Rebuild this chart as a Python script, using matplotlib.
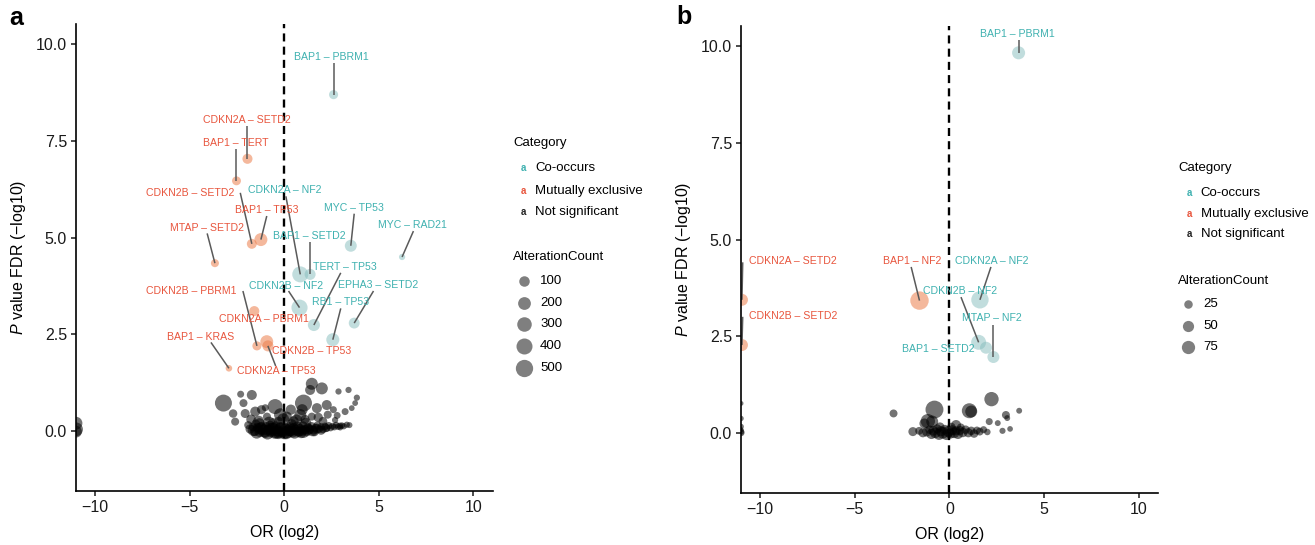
import matplotlib
matplotlib.use("Agg")
import matplotlib.pyplot as plt
import numpy as np

plt.rcParams['font.family'] = ['Liberation Sans', 'DejaVu Sans']
plt.rcParams['mathtext.fontset'] = 'custom'
plt.rcParams['mathtext.it'] = 'Liberation Sans:italic'
plt.rcParams['mathtext.rm'] = 'Liberation Sans'

# ---------------- panel a ----------------
a_sig_pairs = ['BAP1 – PBRM1', 'CDKN2A – SETD2', 'BAP1 – TERT', 'CDKN2B – SETD2', 'BAP1 – TP53',
               'MTAP – SETD2', 'CDKN2A – NF2', 'MYC – TP53', 'MYC – RAD21', 'BAP1 – SETD2',
               'TERT – TP53', 'CDKN2B – NF2', 'EPHA3 – SETD2', 'RB1 – TP53', 'CDKN2B – PBRM1',
               'CDKN2A – PBRM1', 'BAP1 – KRAS', 'CDKN2B – TP53', 'CDKN2A – TP53']
a_sig_or = [2.61, -1.94, -2.52, -1.71, -1.23, -3.66, 0.85, 3.52, 6.23, 1.37,
            1.57, 0.81, 3.70, 2.57, -1.44, -1.58, -2.92, -0.92, -0.86]
a_sig_fdr = [8.70, 7.04, 6.47, 4.84, 4.95, 4.34, 4.05, 4.79, 4.50, 4.05,
             2.74, 3.19, 2.79, 2.36, 2.20, 3.10, 1.62, 2.31, 2.20]
a_sig_count = [55, 85, 50, 80, 210, 30, 400, 160, 5, 120,
               165, 410, 115, 215, 55, 85, 8, 205, 120]
a_sig_cat = ['co', 'me', 'me', 'me', 'me', 'me', 'co', 'co', 'co', 'co',
             'co', 'co', 'co', 'co', 'me', 'me', 'me', 'me', 'me']

a_ns_or = [-11, -11, -11,
           -3.21, -2.30, -1.71, -2.15, -1.53, -2.59, -2.06, -1.20, -0.91, -0.48, -1.00,
           0.14, 0.85, 1.02, 1.37, 1.46, 1.99, 1.73, 2.25, 1.46, 2.87, 3.40, 3.75, 3.57,
           3.22, 3.84, 2.69, 3.31, 2.96, 2.30, 2.60, 1.10, 0.50, -0.30, -1.30, -1.90,
           -1.80, -1.65, -1.55, -1.40, -1.30, -1.20, -1.10, -1.00, -0.95, -0.85, -0.75,
           -0.70, -0.60, -0.50, -0.45, -0.35, -0.25, -0.20, -0.10, 0.00, 0.05, 0.15,
           0.20, 0.30, 0.35, 0.45, 0.50, 0.60, 0.70, 0.75, 0.85, 0.95, 1.00, 1.10,
           1.20, 1.25, 1.35, 1.45, 1.55, 1.65, 1.75, 1.85, 1.95, 2.05, 2.15, 2.25,
           2.35, 2.45, 2.55, 2.65, 2.75, 2.85, 2.95, 3.05, 3.15, 1.60, 0.90, -0.30,
           -1.50, -0.60, 0.40, 3.45,
           -1.62, -1.45, -1.25, -1.05, -0.88, -0.65, -0.40, -0.15, 0.10, 0.32, 0.55,
           0.78, 1.02, 1.28, 1.50, 1.72, 1.95, 2.20, -1.35, -0.80, -0.05, 0.65, 1.15,
           -2.70, -0.20, 0.35, 1.80, 2.05, 2.80, -1.75, 0.95]
a_ns_fdr = [0.20, 0.04, -0.02,
            0.72, 0.95, 0.93, 0.72, 0.50, 0.24, 0.45, 0.55, 0.37, 0.63, 0.60,
            0.37, 0.41, 0.72, 1.06, 1.22, 1.10, 0.59, 0.67, 0.37, 1.02, 1.06, 0.72, 0.59,
            0.50, 0.86, 0.28, 0.16, 0.09, 0.42, 0.55, 0.30, 0.25, 0.25, 0.20, 0.15,
            0.05, 0.10, 0.00, 0.08, -0.02, 0.12, 0.03, -0.05, 0.10, 0.02, 0.15,
            -0.03, 0.06, -0.06, 0.12, 0.01, -0.04, 0.09, 0.00, -0.07, 0.06, 0.02,
            -0.05, 0.10, 0.00, -0.03, 0.07, 0.02, 0.12, -0.02, 0.05, 0.00, 0.13, 0.03,
            -0.02, 0.09, 0.04, 0.12, 0.02, 0.08, 0.14, 0.05, 0.10, 0.04, 0.12, 0.07,
            0.14, 0.08, 0.12, 0.10, 0.15, 0.11, 0.13, 0.14, 0.12, -0.03, -0.06, -0.08,
            0.18, 0.20, 0.18, 0.15,
            0.02, -0.04, 0.06, 0.00, -0.06, 0.04, -0.03, 0.05, -0.05, 0.03, -0.04,
            0.02, -0.03, 0.04, 0.00, 0.06, 0.02, 0.08, 0.25, 0.22, 0.30, 0.28, 0.20,
            0.45, 0.42, 0.55, 0.35, 0.25, 0.40, 0.30, 0.55]
a_ns_count = [200, 260, 150,
              475, 13, 83, 30, 83, 30, 53, 53, 30, 330, 13,
              83, 162, 475, 83, 162, 162, 83, 83, 30, 5, 5, 2, 2,
              13, 5, 5, 5, 4, 30, 13, 53, 83, 53, 83, 30,
              60, 45, 90, 70, 100, 50, 110, 90, 80, 120, 55,
              100, 140, 120, 80, 150, 110, 90, 160, 130, 110, 140,
              100, 80, 120, 110, 90, 110, 70, 100, 80, 90, 55, 70,
              60, 55, 45, 40, 45, 35, 30, 30, 25, 25, 20, 18,
              15, 14, 12, 10, 10, 8, 8, 6, 5, 40, 80, 90,
              50, 90, 70, 3,
              150, 180, 160, 200, 190, 220, 210, 230, 200, 190, 180,
              160, 150, 120, 110, 80, 60, 45, 120, 140, 160, 130, 110,
              40, 200, 90, 60, 45, 12, 70, 120]

# label centre and segment start (None = no segment drawn)
a_label_xy = {
    'BAP1 – PBRM1': (2.48, 9.67), 'CDKN2A – SETD2': (-1.95, 8.04), 'BAP1 – TERT': (-2.55, 7.45),
    'CDKN2B – SETD2': (-4.96, 6.16), 'BAP1 – TP53': (-0.92, 5.72), 'MTAP – SETD2': (-4.07, 5.25),
    'CDKN2A – NF2': (0.05, 6.23), 'MYC – TP53': (3.66, 5.76), 'MYC – RAD21': (6.80, 5.32),
    'BAP1 – SETD2': (1.34, 5.04), 'TERT – TP53': (3.22, 4.24), 'CDKN2B – NF2': (0.09, 3.75),
    'EPHA3 – SETD2': (4.98, 3.78), 'RB1 – TP53': (2.99, 3.33), 'CDKN2B – PBRM1': (-4.93, 3.62),
    'CDKN2A – PBRM1': (-1.09, 2.90), 'BAP1 – KRAS': (-4.42, 2.43), 'CDKN2B – TP53': (1.46, 2.07),
    'CDKN2A – TP53': (-0.39, 1.56),
}
a_seg_start = {
    'BAP1 – PBRM1': (2.61, 9.53), 'CDKN2A – SETD2': (-1.94, 7.90), 'BAP1 – TERT': (-2.52, 7.30),
    'CDKN2B – SETD2': (-2.32, 6.16), 'BAP1 – TP53': (-0.92, 5.56), 'MTAP – SETD2': (-4.07, 5.11),
    'CDKN2A – NF2': (0.09, 6.07), 'MYC – TP53': (3.70, 5.62), 'MYC – RAD21': (6.83, 5.17),
    'BAP1 – SETD2': (1.37, 4.90), 'TERT – TP53': (2.99, 4.09), 'CDKN2B – NF2': (0.23, 3.62),
    'EPHA3 – SETD2': (4.72, 3.62), 'RB1 – TP53': (2.99, 3.17), 'CDKN2B – PBRM1': (-2.18, 3.62),
    'CDKN2A – PBRM1': None, 'BAP1 – KRAS': (-3.87, 2.29), 'CDKN2B – TP53': None,
    'CDKN2A – TP53': (-0.45, 1.68),
}
a_legend_counts = [100, 200, 300, 400, 500]

# ---------------- panel b ----------------
b_sig_pairs = ['BAP1 – PBRM1', 'CDKN2A – SETD2', 'CDKN2B – SETD2', 'BAP1 – NF2',
               'CDKN2A – NF2', 'CDKN2B – NF2', 'MTAP – NF2', 'BAP1 – SETD2']
b_sig_or = [3.65, -10.95, -10.95, -1.58, 1.61, 1.54, 2.32, 1.93]
b_sig_fdr = [9.83, 3.44, 2.27, 3.42, 3.44, 2.34, 1.96, 2.20]
b_sig_count = [72, 59, 59, 160, 140, 100, 59, 59]
b_sig_cat = ['co', 'me', 'me', 'me', 'co', 'co', 'co', 'co']

b_ns_or = [-11, -11, -11, -11, -11, -11,
           -2.95, -0.79, -0.91, -1.32, -1.14, 1.05, 1.15, 2.22, 3.68, 2.98, 3.05, 2.10, 2.55,
           0.35, -1.93, 3.20, 2.80,
           -1.20, -1.05, -0.95, -0.85, -0.75, -0.65, -0.55, -0.45, -0.35, -0.25, -0.15,
           -0.05, 0.05, 0.15, 0.25, 0.35, 0.45, 0.55, 0.70, 0.85, 1.00, 1.15, 1.30,
           1.45, 1.60, 1.80, 2.00, -0.50, 0.10, 0.60, -1.60, -1.40]
b_ns_fdr = [0.76, 0.37, 0.16, 0.03, 0.00, 0.08,
            0.50, 0.60, 0.29, 0.24, 0.30, 0.57, 0.55, 0.87, 0.57, 0.46, 0.38, 0.29, 0.25,
            0.20, 0.03, 0.10, 0.05,
            0.02, 0.08, -0.03, 0.05, 0.00, 0.10, -0.04, 0.04, 0.00, 0.08, -0.05,
            0.03, -0.02, 0.07, 0.00, 0.05, -0.03, 0.06, 0.01, 0.08, 0.00, 0.05, -0.02,
            0.06, 0.03, 0.08, 0.02, 0.15, 0.15, 0.14, 0.05, 0.00]
b_ns_count = [5, 7, 8, 12, 15, 6,
              21, 150, 59, 38, 90, 100, 59, 90, 9, 21, 9, 15, 9,
              38, 29, 8, 10,
              30, 25, 40, 35, 45, 30, 50, 40, 55, 35, 45,
              50, 40, 35, 45, 30, 40, 30, 35, 25, 30, 25, 25,
              20, 20, 15, 12, 30, 25, 20, 20, 30]

b_label_xy = {
    'BAP1 – PBRM1': (3.61, 10.32), 'CDKN2A – SETD2': (-8.25, 4.45), 'CDKN2B – SETD2': (-8.25, 3.01),
    'BAP1 – NF2': (-1.96, 4.45), 'CDKN2A – NF2': (2.25, 4.45), 'CDKN2B – NF2': (0.56, 3.66),
    'MTAP – NF2': (2.25, 2.97), 'BAP1 – SETD2': (-0.58, 2.17),
}
b_seg_start = {
    'BAP1 – PBRM1': (3.65, 10.16), 'CDKN2A – SETD2': (-10.91, 4.41), 'CDKN2B – SETD2': (-10.91, 3.00),
    'BAP1 – NF2': (-2.02, 4.29), 'CDKN2A – NF2': (2.19, 4.29), 'CDKN2B – NF2': (0.61, 3.51),
    'MTAP – NF2': (2.32, 2.79), 'BAP1 – SETD2': None,
}
b_legend_counts = [25, 50, 75]

categories = ['Co-occurs', 'Mutually exclusive', 'Not significant']

TXT_COL = {'co': '#3fb1b0', 'me': '#e8553d', 'ns': '#222222'}
PT_COL = {'co': '#85bdbd', 'me': '#ec7e4c'}
PT_ALPHA = {'co': 0.5, 'me': 0.55}


def size_a(c):
    d = 5 + 0.55 * np.sqrt(np.asarray(c, dtype=float))
    return (d * 0.72) ** 2


def size_b(c):
    d = 2 + 1.3 * np.sqrt(np.asarray(c, dtype=float))
    return (d * 0.72) ** 2


def draw_panel(ax, ns_x, ns_y, ns_c, names, sx, sy, sc, scat, label_xy, seg_start, size_fn):
    ax.axvline(0, color='black', ls=(0, (3.4, 2.2)), lw=1.7, zorder=1)
    ax.scatter(ns_x, ns_y, s=size_fn(ns_c), color='black', alpha=0.55, lw=0, zorder=2)
    sx, sy, sc = np.array(sx), np.array(sy), np.array(sc)
    for cat in ['co', 'me']:
        m = np.array([c == cat for c in scat])
        ax.scatter(sx[m], sy[m], s=size_fn(sc[m]), color=PT_COL[cat], alpha=PT_ALPHA[cat],
                   lw=0, zorder=3)
    for name, x, y, cat in zip(names, sx, sy, scat):
        lx, ly = label_xy[name]
        ax.text(lx, ly, name, ha='center', va='center', fontsize=7.6,
                color=TXT_COL[cat], zorder=5)
        st = seg_start[name]
        if st is not None:
            ax.plot([st[0], x], [st[1], y], color='#5a5a5a', lw=1.1, zorder=4,
                    solid_capstyle='butt', clip_on=False)

    for s in ['top', 'right']:
        ax.spines[s].set_visible(False)
    for s in ['left', 'bottom']:
        ax.spines[s].set_linewidth(1.2)
        ax.spines[s].set_zorder(6)
    ax.set_xlim(-11, 11.02)
    ax.set_ylim(-1.55, 10.52)
    ax.set_xticks([-10, -5, 0, 5, 10])
    ax.set_yticks([0, 2.5, 5, 7.5, 10])
    ax.tick_params(length=3.5, width=1.1, labelsize=11.5, colors='#1a1a1a', pad=3)
    ax.set_xlabel('OR (log2)', fontsize=11.5)
    ax.set_ylabel(r'$\it{P}$ value FDR (−log10)', fontsize=11.5)
    ax.xaxis.label.set_va('center')
    ax.yaxis.label.set_va('center')
    ax.xaxis.set_label_coords(0.5, -0.09)
    ax.yaxis.set_label_coords(-0.137, 0.5)


def draw_legend(fig, ax, title_x, cat_title_y, key_x, lab_x, cat_rows, cnt_title_y,
                circ_x, circ_lab_x, cnt_rows, counts, size_fn):
    W, H = 1315.0, 545.0
    fx = lambda px: px / W
    fy = lambda py: 1 - py / H
    fig.text(fx(title_x), fy(cat_title_y), 'Category', fontsize=9.5, va='center', ha='left')
    for cat, key, ry in zip(categories, ['co', 'me', 'ns'], cat_rows):
        fig.text(fx(key_x), fy(ry), 'a', fontsize=7, fontweight='bold', color=TXT_COL[key],
                 va='center', ha='center')
        fig.text(fx(lab_x), fy(ry), cat, fontsize=9.5, va='center', ha='left')
    fig.text(fx(title_x), fy(cnt_title_y), 'AlterationCount', fontsize=9.5, va='center', ha='left')
    for c, ry in zip(counts, cnt_rows):
        ax.scatter([fx(circ_x)], [fy(ry)], s=size_fn([c]), color='black', alpha=0.5, lw=0,
                   transform=fig.transFigure, clip_on=False)
        fig.text(fx(circ_lab_x), fy(ry), str(c), fontsize=9.5, va='center', ha='left')


fig = plt.figure(figsize=(13.15, 5.45), dpi=100)
ax_a = fig.add_axes([0.0578, 0.0994, 0.3169, 0.856])
ax_b = fig.add_axes([0.5635, 0.0960, 0.3173, 0.8560])

draw_panel(ax_a, a_ns_or, a_ns_fdr, a_ns_count, a_sig_pairs, a_sig_or, a_sig_fdr,
           a_sig_count, a_sig_cat, a_label_xy, a_seg_start, size_a)
draw_panel(ax_b, b_ns_or, b_ns_fdr, b_ns_count, b_sig_pairs, b_sig_or, b_sig_fdr,
           b_sig_count, b_sig_cat, b_label_xy, b_seg_start, size_b)

draw_legend(fig, ax_a, 513, 143.3, 523.3, 535, [168.3, 190.7, 211.7], 256.7,
            524, 540, [280.7, 302.7, 324.3, 346.0, 367.7], a_legend_counts, size_a)
draw_legend(fig, ax_b, 1178.3, 168.3, 1189.5, 1200.7, [192.7, 214.0, 234.3], 280.7,
            1188.3, 1203.3, [304.0, 325.7, 346.7], b_legend_counts, size_b)

fig.text(16 / 1315, 1 - 18 / 545, 'a', fontsize=18, fontweight='bold', ha='center', va='center')
fig.text(684 / 1315, 1 - 17 / 545, 'b', fontsize=18, fontweight='bold', ha='center', va='center')

fig.savefig('out.png', dpi=100)
